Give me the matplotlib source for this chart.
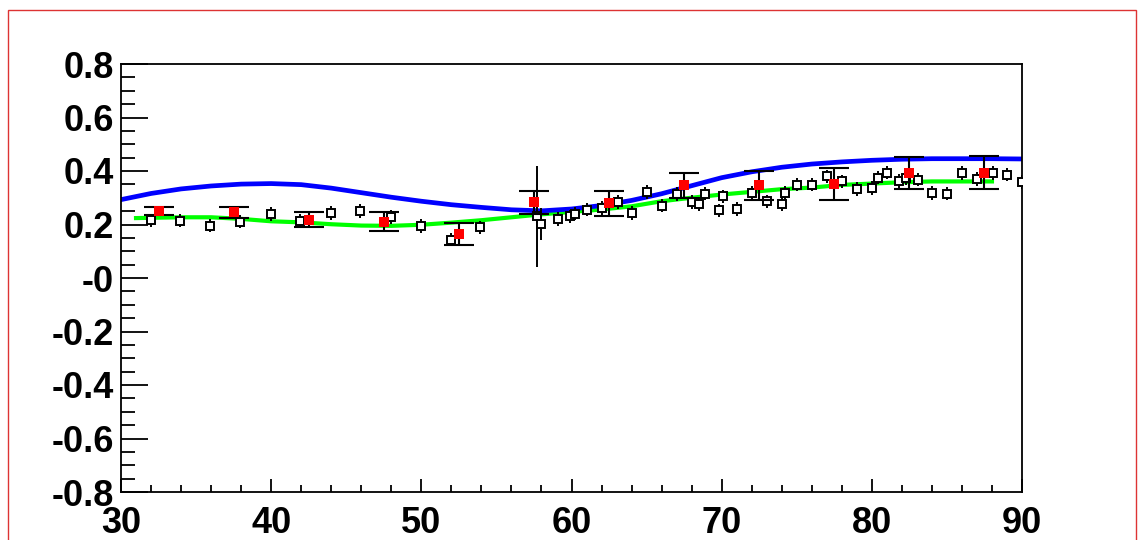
import numpy as np
import matplotlib
matplotlib.use("Agg")
import matplotlib.pyplot as plt
from matplotlib.ticker import MultipleLocator, FixedLocator, FixedFormatter
from matplotlib.patches import Rectangle

# bold sans for the axis numbers
plt.rcParams["font.family"] = ["Liberation Sans", "DejaVu Sans"]
plt.rcParams["font.weight"] = "bold"

# open squares: fine-binned measurement
open_x = [32.0, 33.9, 35.9, 37.9, 40.0, 41.9, 44.0, 45.9, 48.0, 50.0, 52.0, 53.9,
          57.7, 58.0, 59.1, 59.9, 60.2, 61.0, 62.0, 63.1, 64.0, 65.0, 66.0, 67.0,
          68.0, 68.5, 68.9, 69.8, 70.1, 71.0, 72.0, 73.0, 74.0, 74.2, 75.0, 76.0,
          77.0, 78.0, 79.0, 80.0, 80.4, 81.0, 81.8, 82.3, 83.1, 84.0, 85.0, 86.0,
          87.0, 88.1, 89.0, 90.0]
open_y = [0.215, 0.214, 0.196, 0.211, 0.239, 0.214, 0.243, 0.251, 0.228, 0.195, 0.143, 0.189,
          0.230, 0.203, 0.221, 0.230, 0.240, 0.255, 0.261, 0.284, 0.243, 0.322, 0.270, 0.314,
          0.284, 0.277, 0.315, 0.253, 0.305, 0.258, 0.318, 0.286, 0.277, 0.319, 0.349, 0.349,
          0.380, 0.361, 0.333, 0.337, 0.375, 0.394, 0.363, 0.372, 0.368, 0.318, 0.315, 0.393,
          0.370, 0.393, 0.386, 0.359]
open_err = [0.025] * len(open_y)
open_err[12] = 0.19
open_err[13] = 0.06

# red squares: 5-unit bins
red_x = [32.5, 37.5, 42.5, 47.5, 52.5, 57.5, 62.5, 67.5, 72.5, 77.5, 82.5, 87.5]
red_y = [0.251, 0.246, 0.218, 0.211, 0.165, 0.283, 0.280, 0.346, 0.346, 0.352, 0.393, 0.393]
red_err = [0.015, 0.020, 0.027, 0.034, 0.042, 0.042, 0.047, 0.048, 0.055, 0.060, 0.061, 0.062]

# blue curve
blue_x = list(range(30, 91, 2))
blue_y = [0.293, 0.316, 0.333, 0.344, 0.351, 0.353, 0.349, 0.336, 0.319, 0.302, 0.287,
          0.274, 0.264, 0.255, 0.251, 0.258, 0.271, 0.290, 0.315, 0.345, 0.375, 0.397,
          0.414, 0.426, 0.434, 0.440, 0.444, 0.446, 0.446, 0.446, 0.445]

# green curve
green_x = [31] + list(range(32, 89, 2))
green_y = [0.224, 0.225, 0.227, 0.227, 0.221, 0.212, 0.208, 0.201, 0.196, 0.195, 0.199,
           0.207, 0.216, 0.227, 0.238, 0.247, 0.256, 0.268, 0.287, 0.300, 0.312, 0.322,
           0.332, 0.338, 0.348, 0.353, 0.358, 0.361, 0.361, 0.361]

x_ticks = [30, 40, 50, 60, 70, 80, 90]
x_labels = ["30", "40", "50", "60", "70", "80", "90"]
y_ticks = [-0.8, -0.6, -0.4, -0.2, 0.0, 0.2, 0.4, 0.6, 0.8]
y_labels = ["-0.8", "-0.6", "-0.4", "-0.2", "-0", "0.2", "0.4", "0.6", "0.8"]

fig = plt.figure(figsize=(11.41, 5.40), dpi=100)
ax = fig.add_axes([121 / 1141, 1 - 492 / 540, (1022 - 121) / 1141, (492 - 64) / 540])

ax.plot(green_x, green_y, color="#00ff00", lw=3.0, zorder=2)
ax.plot(blue_x, blue_y, color="#0000ff", lw=3.4, zorder=2.5)

ax.errorbar(open_x, open_y, yerr=open_err, fmt="none", ecolor="black", elinewidth=1.4, zorder=3)
ax.plot(open_x, open_y, "s", mfc="white", mec="black", ms=6.2, mew=1.4, zorder=4)

ax.errorbar(red_x, red_y, yerr=red_err, fmt="none", ecolor="black", elinewidth=1.5,
            capsize=10.5, capthick=1.5, zorder=5)
ax.plot(red_x, red_y, "s", color="red", ms=7.4, mew=0, zorder=6)

ax.set_xlim(30, 90)
ax.set_ylim(-0.8, 0.8)
ax.xaxis.set_major_locator(FixedLocator(x_ticks))
ax.xaxis.set_major_formatter(FixedFormatter(x_labels))
ax.xaxis.set_minor_locator(MultipleLocator(2))
ax.yaxis.set_major_locator(FixedLocator(y_ticks))
ax.yaxis.set_major_formatter(FixedFormatter(y_labels))
ax.yaxis.set_minor_locator(MultipleLocator(0.05))

ax.tick_params(which="both", direction="in", top=False, right=False, width=1.3, labelsize=26)
ax.tick_params(axis="y", which="major", length=19.4, pad=5)
ax.tick_params(axis="y", which="minor", length=10)
ax.tick_params(axis="x", which="major", length=9.4, pad=10)
ax.tick_params(axis="x", which="minor", length=4.7)
for s in ax.spines.values():
    s.set_linewidth(1.3)

# red pad frame around the canvas
fig.add_artist(Rectangle((8 / 1141, -0.1), (1136 - 8) / 1141, 1 - 10 / 540 + 0.1,
                         transform=fig.transFigure, fill=False, edgecolor="#dd3333", lw=1.0))

fig.savefig("out.png", dpi=100)
